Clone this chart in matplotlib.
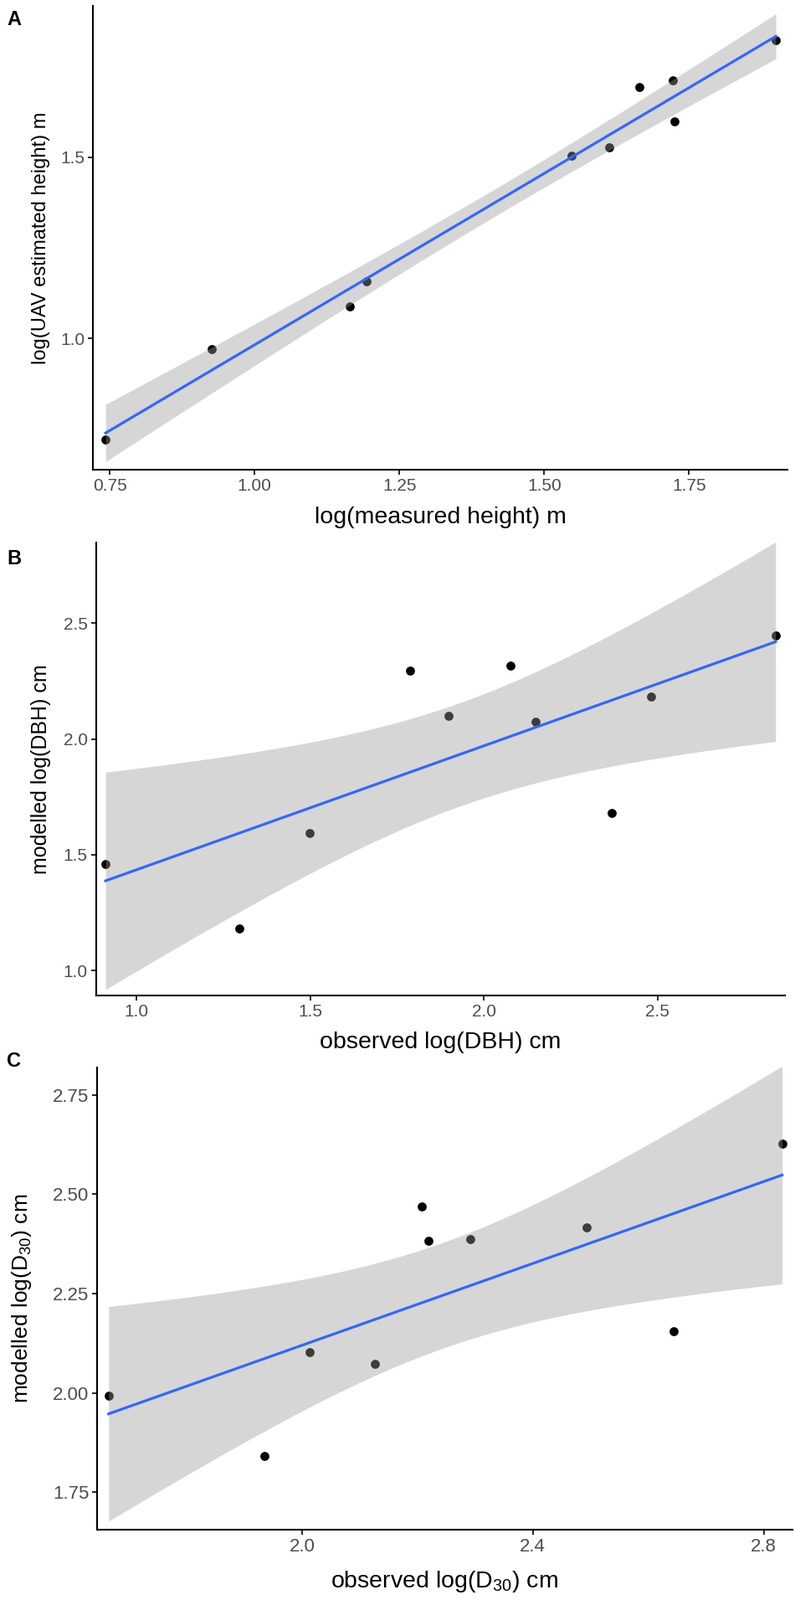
import numpy as np
import matplotlib
matplotlib.use('Agg')
import matplotlib.pyplot as plt

plt.rcParams['font.family'] = ['Liberation Sans', 'DejaVu Sans']

# panel A: height
height_measured = [0.743, 0.926, 1.164, 1.194, 1.548, 1.613, 1.665, 1.722, 1.725, 1.900]
height_uav = [0.721, 0.970, 1.088, 1.158, 1.504, 1.526, 1.693, 1.712, 1.598, 1.823]

# panel B: DBH
dbh_observed = [0.911, 1.296, 1.499, 1.788, 1.898, 2.077, 2.148, 2.368, 2.482, 2.840]
dbh_modelled = [1.461, 1.181, 1.595, 2.296, 2.101, 2.315, 2.073, 1.679, 2.183, 2.445]

# panel C: D30
d30_observed = [1.665, 1.935, 2.013, 2.127, 2.208, 2.219, 2.292, 2.493, 2.644, 2.832]
d30_modelled = [1.993, 1.841, 2.103, 2.073, 2.470, 2.382, 2.388, 2.417, 2.156, 2.627]

T975 = 2.306  # t quantile, df = 8

W, H = 950, 1911
fig = plt.figure(figsize=(W / 100, H / 100), dpi=100)


def px_axes(left, top, right, bottom):
    return fig.add_axes([left / W, 1 - bottom / H, (right - left) / W, (bottom - top) / H])


def lm_panel(ax, x, y):
    x = np.asarray(x)
    y = np.asarray(y)
    n = len(x)
    b, a = np.polyfit(x, y, 1)
    resid = y - (a + b * x)
    s = np.sqrt(np.sum(resid ** 2) / (n - 2))
    sxx = np.sum((x - x.mean()) ** 2)
    xs = np.linspace(x.min(), x.max(), 80)
    yhat = a + b * xs
    se = s * np.sqrt(1 / n + (xs - x.mean()) ** 2 / sxx)
    # points first, the ribbon is laid over them like ggplot does
    ax.scatter(x, y, s=60, color='black', zorder=2, linewidths=0)
    ax.fill_between(xs, yhat - T975 * se, yhat + T975 * se, color='#999999',
                    alpha=0.4, linewidth=0, zorder=3)
    ax.plot(xs, yhat, color='#3366FF', lw=2.3, zorder=4)


def style(ax, tick_size):
    for side in ['top', 'right']:
        ax.spines[side].set_visible(False)
    for side in ['left', 'bottom']:
        ax.spines[side].set_linewidth(1.5)
    ax.tick_params(length=4, width=1.2, colors='black', labelcolor='#4D4D4D',
                   labelsize=tick_size, pad=3)


def labels(ax, xl, yl, xsize, ysize, xl_y, yl_x, box):
    left, top, right, bottom = box
    ax.set_xlabel(xl, fontsize=xsize, va='center')
    ax.set_ylabel(yl, fontsize=ysize, va='center')
    ax.xaxis.set_label_coords(0.5, -(xl_y - bottom) / (bottom - top))
    ax.yaxis.set_label_coords(-(left - yl_x) / (right - left), 0.5)


# A
boxA = (111, 7, 941, 561)
axA = px_axes(*boxA)
lm_panel(axA, height_measured, height_uav)
axA.set_xlim(0.721, 1.92)
axA.set_ylim(0.638, 1.917)
axA.set_xticks([0.75, 1.00, 1.25, 1.50, 1.75])
axA.set_xticklabels(['0.75', '1.00', '1.25', '1.50', '1.75'])
axA.set_yticks([1.0, 1.5])
axA.set_yticklabels(['1.0', '1.5'])
style(axA, 15)
labels(axA, 'log(measured height) m', 'log(UAV estimated height) m', 20.5, 17, 618, 49, boxA)
fig.text(8 / W, 1 - 24 / H, 'A', fontsize=17, fontweight='bold', va='center')

# B
boxB = (114.5, 648, 938, 1189)
axB = px_axes(*boxB)
lm_panel(axB, dbh_observed, dbh_modelled)
axB.set_xlim(0.883, 2.867)
axB.set_ylim(0.893, 2.847)
axB.set_xticks([1.0, 1.5, 2.0, 2.5])
axB.set_xticklabels(['1.0', '1.5', '2.0', '2.5'])
axB.set_yticks([1.0, 1.5, 2.0, 2.5])
axB.set_yticklabels(['1.0', '1.5', '2.0', '2.5'])
style(axB, 15)
labels(axB, 'observed log(DBH) cm', 'modelled log(DBH) cm', 20.5, 18, 1245, 49, boxB)
fig.text(8 / W, 1 - 668 / H, 'B', fontsize=17, fontweight='bold', va='center')

# C
boxC = (116, 1275, 947, 1827)
axC = px_axes(*boxC)
lm_panel(axC, d30_observed, d30_modelled)
axC.set_xlim(1.645, 2.850)
axC.set_ylim(1.656, 2.819)
axC.set_xticks([2.0, 2.4, 2.8])
axC.set_xticklabels(['2.0', '2.4', '2.8'])
axC.set_yticks([1.75, 2.00, 2.25, 2.50, 2.75])
axC.set_yticklabels(['1.75', '2.00', '2.25', '2.50', '2.75'])
style(axC, 16)
labels(axC, r'observed log(D$\mathregular{_{30}}$) cm',
       r'modelled log(D$\mathregular{_{30}}$) cm', 20.5, 19, 1889, 26, boxC)
fig.text(8 / W, 1 - 1267 / H, 'C', fontsize=17, fontweight='bold', va='center')

fig.savefig('out.png', dpi=100)
